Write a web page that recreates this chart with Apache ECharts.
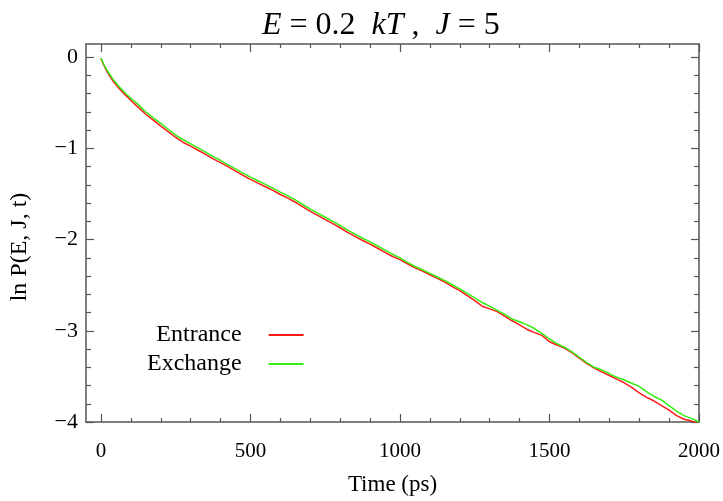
<!DOCTYPE html>
<html>
<head>
<meta charset="utf-8">
<script src="https://cdn.jsdelivr.net/npm/echarts@6/dist/echarts.min.js"></script>
<style>html,body{margin:0;padding:0;background:#fff}#c{width:723px;height:501px}</style>
</head>
<body>
<div id="c"></div>
<script>
const times = [0,10,20,30,40,50,60,70,80,90,100,125,150,175,200,225,250,275,300,325,350,375,400,425,450,475,500,525,550,575,600,625,650,675,700,725,750,775,800,825,850,875,900,925,950,975,1000,1025,1050,1075,1100,1125,1150,1175,1200,1225,1250,1275,1300,1325,1350,1375,1400,1425,1450,1475,1500,1525,1550,1575,1600,1625,1650,1675,1700,1725,1750,1775,1800,1825,1850,1875,1900,1925,1950,1975,2000];
const entrance = [-0.01,-0.09,-0.155,-0.21,-0.26,-0.30,-0.34,-0.375,-0.41,-0.44,-0.475,-0.55,-0.625,-0.69,-0.755,-0.815,-0.88,-0.935,-0.975,-1.02,-1.065,-1.115,-1.155,-1.2,-1.25,-1.295,-1.34,-1.38,-1.42,-1.46,-1.505,-1.545,-1.59,-1.64,-1.69,-1.735,-1.78,-1.825,-1.87,-1.92,-1.965,-2.01,-2.05,-2.095,-2.14,-2.185,-2.22,-2.265,-2.31,-2.345,-2.385,-2.425,-2.465,-2.515,-2.56,-2.615,-2.67,-2.73,-2.76,-2.79,-2.84,-2.89,-2.935,-2.985,-3.02,-3.05,-3.12,-3.155,-3.19,-3.24,-3.3,-3.36,-3.41,-3.45,-3.49,-3.53,-3.57,-3.62,-3.68,-3.73,-3.77,-3.82,-3.87,-3.93,-3.97,-3.99,-4.02];
const exchange = [-0.01,-0.08,-0.14,-0.19,-0.24,-0.28,-0.32,-0.355,-0.39,-0.42,-0.45,-0.52,-0.6,-0.665,-0.725,-0.79,-0.855,-0.905,-0.95,-0.995,-1.04,-1.09,-1.13,-1.18,-1.225,-1.27,-1.315,-1.355,-1.395,-1.435,-1.48,-1.52,-1.565,-1.615,-1.665,-1.71,-1.755,-1.8,-1.845,-1.895,-1.94,-1.985,-2.025,-2.07,-2.115,-2.16,-2.2,-2.25,-2.295,-2.33,-2.37,-2.41,-2.45,-2.495,-2.54,-2.59,-2.64,-2.69,-2.73,-2.775,-2.82,-2.87,-2.9,-2.935,-2.975,-3.03,-3.09,-3.14,-3.18,-3.23,-3.29,-3.35,-3.4,-3.43,-3.47,-3.51,-3.54,-3.575,-3.61,-3.67,-3.72,-3.76,-3.82,-3.88,-3.93,-3.96,-4.0];
const xMajor = [0,500,1000,1500,2000];
const xMinor = [100,200,300,400,600,700,800,900,1100,1200,1300,1400,1600,1700,1800,1900];
const yMajor = [-4,-3,-2,-1,0];
const yMinor = [-3.8,-3.6,-3.4,-3.2,-2.8,-2.6,-2.4,-2.2,-1.8,-1.6,-1.4,-1.2,-0.8,-0.6,-0.4,-0.2];
const seriesNames = ['Entrance','Exchange'];

const FONT = '"Liberation Serif","Times New Roman",serif';
const XMIN=-50, XMAX=2000, YMIN=-4, YMAX=0.145;
function axisLineCfg(line){ return {show:!!line, onZero:false, lineStyle:{color:'#555', width:1.5}}; }
function xa(pos, vals, len, labels, line){
  return {type:'value', position:pos, min:XMIN, max:XMAX,
    axisLine: axisLineCfg(line),
    axisTick:{show:true, inside:true, length:len, customValues:vals, lineStyle:{color:'#555', width:1.2}},
    axisLabel: labels ? {show:true, customValues:vals, fontFamily:FONT, fontSize:21, color:'#000', margin:19,
      formatter:v=>String(v)} : {show:false},
    splitLine:{show:false}};
}
function ya(pos, vals, len, labels, line){
  return {type:'value', position:pos, min:YMIN, max:YMAX,
    axisLine: axisLineCfg(line),
    axisTick:{show:true, inside:true, length:len, customValues:vals, lineStyle:{color:'#555', width:1.2}},
    axisLabel: labels ? {show:true, customValues:vals, fontFamily:FONT, fontSize:22, color:'#000', margin:8,
      formatter:v=>v<0?'\u2212'+Math.abs(v):String(v)} : {show:false},
    splitLine:{show:false}};
}
const xAxes=[xa('bottom',xMajor,8,true,true), xa('bottom',xMinor,4,false,false), xa('top',xMajor,8,false,true), xa('top',xMinor,4,false,false)];
Object.assign(xAxes[0], {name:'Time (ps)', nameLocation:'middle', nameGap:51, nameTextStyle:{fontFamily:FONT, fontSize:23, color:'#000'}});
const yAxes=[ya('left',yMajor,8,true,true), ya('left',yMinor,5,false,false), ya('right',yMajor,8,false,true), ya('right',yMinor,5,false,false)];
Object.assign(yAxes[0], {name:'ln P(E, J, t)', nameLocation:'middle', nameGap:54, nameTextStyle:{fontFamily:FONT, fontSize:24, color:'#000', padding:[0,28,0,0]}});

const colors=['#ff1a1a','#33ee11'];
const datasets=[entrance, exchange];
const chart = echarts.init(document.getElementById('c'), null, {renderer:'canvas'});
chart.setOption({
  animation:false,
  backgroundColor:'#fff',
  title:{text:'{i|E} = 0.2  {i|kT} ,  {i|J} = 5', left:262, top:10, padding:0,
    textStyle:{fontFamily:FONT, fontSize:32, fontWeight:'normal', color:'#000',
      rich:{i:{fontFamily:FONT, fontSize:32, fontStyle:'italic', color:'#000'}}}},
  grid:{left:81, right:24, top:44, bottom:75, containLabel:false},
  legend:{show:true, orient:'vertical', left:142, top:318, align:'right', itemGap:5,
    itemWidth:35, itemHeight:2, icon:'rect',
    textStyle:{fontFamily:FONT, fontSize:24, color:'#000', padding:[0,22,0,0]},
    data:seriesNames},
  xAxis:xAxes,
  yAxis:yAxes,
  series: seriesNames.map((n,i)=>({name:n, type:'line', xAxisIndex:0, yAxisIndex:0, showSymbol:false,
    data: times.map((t,k)=>[t, datasets[i][k]]),
    lineStyle:{color:colors[i], width:1.5}, itemStyle:{color:colors[i]}}))
});
</script>
</body>
</html>
